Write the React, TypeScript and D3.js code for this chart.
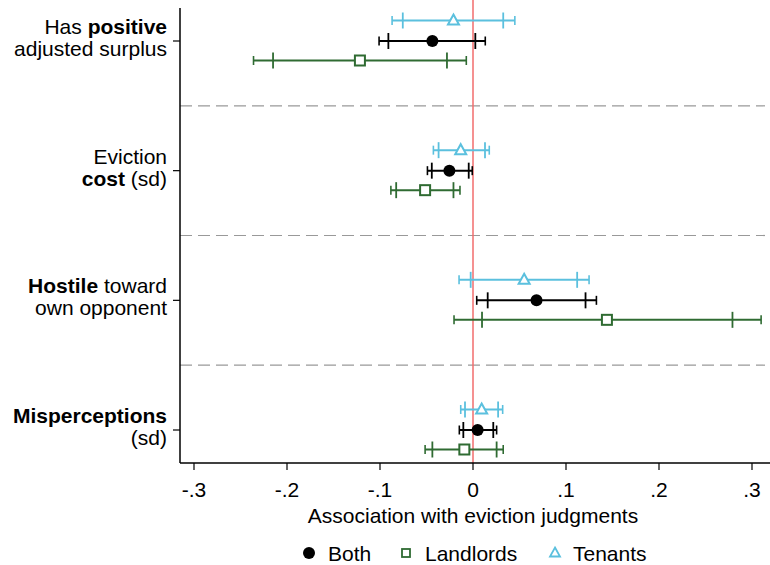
import React from "react";
import * as d3 from "d3";

const categories = ["positive", "cost", "hostile", "misperceptions"];
const xTicks = [-0.3, -0.2, -0.1, 0, 0.1, 0.2, 0.3];
const xTickLabels = ["-.3", "-.2", "-.1", "0", ".1", ".2", ".3"];

const bothEst = [-0.0437, -0.0254, 0.0683, 0.005];
const bothLo90 = [-0.091, -0.0443, 0.0158, -0.0104];
const bothHi90 = [0.0025, -0.0046, 0.121, 0.0218];
const bothLo95 = [-0.101, -0.049, 0.004, -0.0147];
const bothHi95 = [0.0132, -0.0008, 0.1327, 0.0254];

const landEst = [-0.1216, -0.0515, 0.144, -0.0093];
const landLo90 = [-0.215, -0.0826, 0.0097, -0.0437];
const landHi90 = [-0.028, -0.021, 0.279, 0.0254];
const landLo95 = [-0.236, -0.0883, -0.0204, -0.0515];
const landHi95 = [-0.0072, -0.014, 0.3098, 0.0325];

const tenEst = [-0.021, -0.0132, 0.055, 0.0093];
const tenLo90 = [-0.0755, -0.037, -0.0025, -0.0086];
const tenHi90 = [0.0325, 0.0129, 0.112, 0.027];
const tenLo95 = [-0.087, -0.0426, -0.015, -0.0132];
const tenHi95 = [0.045, 0.0175, 0.1248, 0.0319];

const labelLines: { text: string; bold: boolean }[][][] = [
  [
    [{ text: "Has ", bold: false }, { text: "positive", bold: true }],
    [{ text: "adjusted surplus", bold: false }],
  ],
  [
    [{ text: "Eviction", bold: false }],
    [{ text: "cost", bold: true }, { text: " (sd)", bold: false }],
  ],
  [
    [{ text: "Hostile", bold: true }, { text: " toward", bold: false }],
    [{ text: "own opponent", bold: false }],
  ],
  [
    [{ text: "Misperceptions", bold: true }],
    [{ text: "(sd)", bold: false }],
  ],
];

const BLUE = "#5bc0de";
const GREEN = "#2f6b32";
const BLACK = "#000";
const RED = "#f26d6d";
const FONT = "'Liberation Sans', Arial, Helvetica, sans-serif";

const series = [
  { name: "Tenants", color: BLUE, offset: -20.5, est: tenEst, lo90: tenLo90, hi90: tenHi90, lo95: tenLo95, hi95: tenHi95, marker: "tri" },
  { name: "Both", color: BLACK, offset: 0, est: bothEst, lo90: bothLo90, hi90: bothHi90, lo95: bothLo95, hi95: bothHi95, marker: "circle" },
  { name: "Landlords", color: GREEN, offset: 19.5, est: landEst, lo90: landLo90, hi90: landHi90, lo95: landLo95, hi95: landHi95, marker: "square" },
];

function Marker({ type, x, y, color }: { type: string; x: number; y: number; color: string }) {
  if (type === "circle") return <circle cx={x} cy={y} r={6} fill={color} />;
  if (type === "square")
    return <rect x={x - 5} y={y - 5} width={10} height={10} fill="white" stroke={color} strokeWidth={2} />;
  const h = 10;
  const w = 11;
  return (
    <path
      d={`M${x},${y - h / 2 - 1} L${x + w / 2},${y + h / 2 - 1} L${x - w / 2},${y + h / 2 - 1} Z`}
      fill="white"
      stroke={color}
      strokeWidth={2}
    />
  );
}

export default function App() {
  const width = 770;
  const height = 565;
  const left = 180;
  const right = 770;
  const top = 8;
  const bottom = 463;

  const x = d3.scaleLinear().domain([-0.3, 0.3]).range([194, 752]);
  const y = d3.scalePoint<string>().domain(categories).range([41, 430]);

  const seps = categories.slice(1).map((c, i) => ((y(categories[i]) as number) + (y(c) as number)) / 2);

  return (
    <svg width={width} height={height} style={{ position: "absolute", left: 0, top: 0, background: "white" }} fontFamily={FONT}>
      <rect x={0} y={0} width={width} height={height} fill="white" />
      {/* separators */}
      {seps.map((s, i) => (
        <line key={i} x1={left} x2={765} y1={s} y2={s} stroke="#999" strokeWidth={1.2} strokeDasharray="12,6" />
      ))}
      {/* zero line */}
      <line x1={x(0)} x2={x(0)} y1={0} y2={bottom} stroke={RED} strokeWidth={1.5} />
      {/* axes */}
      <line x1={left} x2={left} y1={top} y2={bottom} stroke="#000" strokeWidth={1.5} />
      <line x1={left} x2={right} y1={bottom} y2={bottom} stroke="#000" strokeWidth={1.5} />
      {xTicks.map((t, i) => (
        <g key={i}>
          <line x1={x(t)} x2={x(t)} y1={bottom} y2={bottom + 7} stroke="#000" strokeWidth={1.2} />
          <text x={x(t)} y={497} textAnchor="middle" fontSize={21}>
            {xTickLabels[i]}
          </text>
        </g>
      ))}
      <text x={(left + right) / 2 - 2} y={523} textAnchor="middle" fontSize={21}>
        Association with eviction judgments
      </text>
      {categories.map((c, i) => {
        const cy = y(c) as number;
        return (
          <g key={c}>
            <line x1={left - 7} x2={left} y1={cy} y2={cy} stroke="#000" strokeWidth={1.2} />
            {labelLines[i].map((line, j) => (
              <text key={j} x={167} y={cy + (j === 0 ? -7 : 15)} textAnchor="end" fontSize={21}>
                {line.map((p, k) => (
                  <tspan key={k} fontWeight={p.bold ? "bold" : "normal"}>
                    {p.text}
                  </tspan>
                ))}
              </text>
            ))}
          </g>
        );
      })}
      {/* series */}
      {series.map((s) =>
        categories.map((c, i) => {
          const cy = (y(c) as number) + s.offset;
          return (
            <g key={s.name + c}>
              <line x1={x(s.lo95[i])} x2={x(s.hi95[i])} y1={cy} y2={cy} stroke={s.color} strokeWidth={2} />
              {[s.lo95[i], s.hi95[i]].map((v, k) => (
                <line key={"o" + k} x1={x(v)} x2={x(v)} y1={cy - 4.5} y2={cy + 4.5} stroke={s.color} strokeWidth={1.6} />
              ))}
              {[s.lo90[i], s.hi90[i]].map((v, k) => (
                <line key={"i" + k} x1={x(v)} x2={x(v)} y1={cy - 8} y2={cy + 8} stroke={s.color} strokeWidth={1.8} />
              ))}
              <Marker type={s.marker} x={x(s.est[i])} y={cy} color={s.color} />
            </g>
          );
        })
      )}
      {/* legend */}
      <g>
        <Marker type="circle" x={309} y={553} color={BLACK} />
        <text x={328} y={561} fontSize={21}>Both</text>
        <rect x={402} y={549} width={8} height={8} fill="white" stroke={GREEN} strokeWidth={1.8} />
        <text x={425} y={561} fontSize={21}>Landlords</text>
        <path d="M555,547.5 L560,556.5 L550,556.5 Z" fill="white" stroke={BLUE} strokeWidth={1.8} />
        <text x={573} y={561} fontSize={21}>Tenants</text>
      </g>
    </svg>
  );
}
